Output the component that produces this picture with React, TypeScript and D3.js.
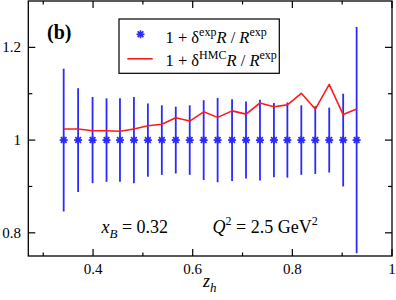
import React from "react";
import * as d3 from "d3";

const zh = [0.341, 0.370, 0.399, 0.427, 0.454, 0.482, 0.510, 0.538, 0.566, 0.594, 0.622, 0.650, 0.679, 0.707, 0.735, 0.763, 0.790, 0.818, 0.846, 0.874, 0.902, 0.929];
const expErr = [0.154, 0.112, 0.093, 0.090, 0.090, 0.093, 0.079, 0.075, 0.072, 0.075, 0.086, 0.091, 0.088, 0.083, 0.087, 0.080, 0.081, 0.075, 0.073, 0.070, 0.100, 0.244];
const hmcRatio = [1.024, 1.024, 1.020, 1.020, 1.019, 1.024, 1.031, 1.034, 1.048, 1.041, 1.061, 1.049, 1.063, 1.056, 1.080, 1.072, 1.076, 1.101, 1.067, 1.120, 1.055, 1.067];
const expCenter = 1;

const xMajor = [0.4, 0.6, 0.8, 1.0];
const xMinor = [0.3, 0.5, 0.7, 0.9];
const xLabels = ["0.4", "0.6", "0.8", "1"];
const yMajor = [0.8, 1.0, 1.2];
const yMinor = [0.9, 1.1];
const yLabels = ["0.8", "1", "1.2"];

const W = 396, H = 300;
const L = 28.3, R = 392, T = 1, B = 256;
const BLUE = "#2a2aff";
const RED = "#ff1a1a";
const FONT = "'Liberation Serif', 'Times New Roman', serif";

function star(cx: number, cy: number, r: number) {
  const d = r * 0.72;
  return `M${cx - r},${cy}L${cx + r},${cy}M${cx},${cy - r}L${cx},${cy + r}` +
    `M${cx - d},${cy - d}L${cx + d},${cy + d}M${cx - d},${cy + d}L${cx + d},${cy - d}`;
}

export default function App() {
  const x = d3.scaleLinear().domain([0.27, 1.0]).range([L, R]);
  const y = d3.scaleLinear().domain([0.75, 1.3]).range([B, T]);
  const line = d3.line<number>().x((_, i) => x(zh[i])).y((v) => y(v));

  return (
    <svg width={W} height={H} style={{ position: "absolute", left: 0, top: 0, background: "#fff" }} fontFamily={FONT}>
      {/* error bars */}
      {zh.map((z, i) => (
        <line key={"e" + i} x1={x(z)} x2={x(z)} y1={y(expCenter + expErr[i])} y2={y(expCenter - expErr[i])}
          stroke={BLUE} strokeWidth={1.8} />
      ))}
      {/* stars */}
      {zh.map((z, i) => (
        <path key={"s" + i} d={star(x(z), y(expCenter), 4)} stroke={BLUE} strokeWidth={1.7} fill="none" />
      ))}
      {/* red line */}
      <path d={line(hmcRatio) || ""} fill="none" stroke={RED} strokeWidth={1.6} strokeLinejoin="round" />

      {/* frame */}
      <rect x={L} y={T} width={R - L} height={B - T} fill="none" stroke="#000" strokeWidth={1.3} />
      {/* x ticks */}
      {xMajor.map((v) => (
        <g key={"xm" + v}>
          <line x1={x(v)} x2={x(v)} y1={B} y2={B - 7} stroke="#000" strokeWidth={1.2} />
          <line x1={x(v)} x2={x(v)} y1={T} y2={T + 7} stroke="#000" strokeWidth={1.2} />
        </g>
      ))}
      {xMinor.map((v) => (
        <g key={"xn" + v}>
          <line x1={x(v)} x2={x(v)} y1={B} y2={B - 3.5} stroke="#000" strokeWidth={1.2} />
          <line x1={x(v)} x2={x(v)} y1={T} y2={T + 3.5} stroke="#000" strokeWidth={1.2} />
        </g>
      ))}
      {xMajor.map((v, i) => (
        <text key={"xl" + v} x={x(v)} y={274} fontSize={15} textAnchor="middle">{xLabels[i]}</text>
      ))}
      {/* y ticks */}
      {yMajor.map((v) => (
        <g key={"ym" + v}>
          <line x1={L} x2={L + 7} y1={y(v)} y2={y(v)} stroke="#000" strokeWidth={1.2} />
          <line x1={R} x2={R - 7} y1={y(v)} y2={y(v)} stroke="#000" strokeWidth={1.2} />
        </g>
      ))}
      {yMinor.map((v) => (
        <g key={"yn" + v}>
          <line x1={L} x2={L + 4} y1={y(v)} y2={y(v)} stroke="#000" strokeWidth={1.2} />
          <line x1={R} x2={R - 4} y1={y(v)} y2={y(v)} stroke="#000" strokeWidth={1.2} />
        </g>
      ))}
      {yMajor.map((v, i) => (
        <text key={"yl" + v} x={21} y={y(v) + 5} fontSize={15} textAnchor="end">{yLabels[i]}</text>
      ))}

      {/* panel label */}
      <text x={47} y={39} fontSize={20} fontWeight="bold">(b)</text>

      {/* legend */}
      <rect x={119} y={19} width={160.3} height={54.3} fill="#fff" stroke="#000" strokeWidth={1.2} />
      <path d={star(140.5, 34.3, 4)} stroke={BLUE} strokeWidth={1.7} fill="none" />
      <line x1={127.3} x2={152.7} y1={58.8} y2={58.8} stroke={RED} strokeWidth={1.6} />
      <text x={165.5} y={42.7} fontSize={16.5}>
        <tspan>1 + δ</tspan>
        <tspan fontSize={12} dy={-7}>exp</tspan>
        <tspan fontStyle="italic" dy={7}>R</tspan>
        <tspan> / </tspan>
        <tspan fontStyle="italic">R</tspan>
        <tspan fontSize={12} dy={-7}>exp</tspan>
      </text>
      <text x={165.5} y={66} fontSize={16.5}>
        <tspan>1 + δ</tspan>
        <tspan fontSize={12} dy={-7}>HMC</tspan>
        <tspan fontStyle="italic" dy={7}>R</tspan>
        <tspan> / </tspan>
        <tspan fontStyle="italic">R</tspan>
        <tspan fontSize={12} dy={-7}>exp</tspan>
      </text>

      {/* annotations */}
      <text x={101.5} y={233.3} fontSize={18}>
        <tspan fontStyle="italic">x</tspan>
        <tspan fontStyle="italic" fontSize={13} dy={5}>B</tspan>
        <tspan dy={-5}> = 0.32</tspan>
      </text>
      <text x={212.5} y={233.3} fontSize={18}>
        <tspan fontStyle="italic">Q</tspan>
        <tspan fontSize={12} dy={-8}>2</tspan>
        <tspan dy={8}> = 2.5 GeV</tspan>
        <tspan fontSize={12} dy={-8}>2</tspan>
      </text>
      {/* x axis title */}
      <text x={203} y={287} fontSize={18}>
        <tspan fontStyle="italic">z</tspan>
        <tspan fontStyle="italic" fontSize={13} dy={5}>h</tspan>
      </text>
    </svg>
  );
}
